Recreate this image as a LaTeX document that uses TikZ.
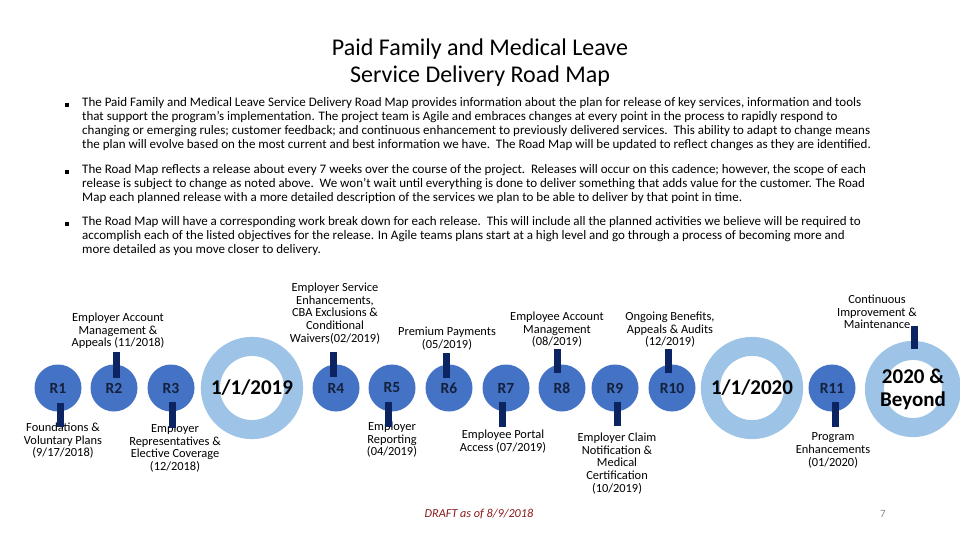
\documentclass[tikz,border=0pt]{standalone}
\usepackage{fontspec}
\setmainfont{Carlito}
\definecolor{relblue}{HTML}{4472C4}
\definecolor{ringblue}{HTML}{9DC3E6}
\definecolor{barnavy}{HTML}{0C2461}
\definecolor{reltext}{HTML}{14213D}
\definecolor{draftred}{HTML}{8B1A1A}
\definecolor{pagegray}{HTML}{8C8C8C}
\tikzset{
  rel/.style={circle, fill=relblue, minimum size=47pt, inner sep=0pt,
    font=\fontsize{15.5}{15.5}\selectfont\bfseries, text=reltext},
  ring/.style={circle, draw=ringblue, line width=19pt, minimum size=70.6pt,
    inner sep=0pt, font=\fontsize{21}{23}\selectfont\bfseries, align=center},
  lbl/.style={font=\fontsize{12.4}{12.8}\selectfont, align=center, inner sep=0pt, anchor=north},
  bar/.style={draw=barnavy, line width=7pt},
  para/.style={font=\fontsize{13}{14}\selectfont, align=left, inner sep=0pt, anchor=north west},
  bullet/.style={fill=black, minimum size=3.2pt, inner sep=0pt, rectangle}
}
\begin{document}
\begin{tikzpicture}[x=1pt,y=-1pt]
\useasboundingbox[fill=white] (0,0) rectangle (960,540);
% title
\node[font=\fontsize{24}{27}\selectfont, align=center, inner sep=0pt] (title) at (480,63)
  {Paid Family and Medical Leave\\Service Delivery Road Map};
% bullets
\node[bullet] (b1) at (67,105) {};
\node[bullet] (b2) at (67,172) {};
\node[bullet] (b3) at (67,224) {};
\node[para] (p1) at (82,97.5) {The Paid Family and Medical Leave Service Delivery Road Map provides information about the plan for release of key services, information and tools\\
that support the program’s implementation. The project team is Agile and embraces changes at every point in the process to rapidly respond to\\
changing or emerging rules; customer feedback; and continuous enhancement to previously delivered services.\ \ This ability to adapt to change means\\
the plan will evolve based on the most current and best information we have.\ \ The Road Map will be updated to reflect changes as they are identified.};
\node[para] (p2) at (82,164.5) {The Road Map reflects a release about every 7 weeks over the course of the project.\ \ Releases will occur on this cadence; however, the scope of each\\
release is subject to change as noted above.\ \ We won’t wait until everything is done to deliver something that adds value for the customer. The Road\\
Map each planned release with a more detailed description of the services we plan to be able to deliver by that point in time.};
\node[para] (p3) at (82,216.5) {The Road Map will have a corresponding work break down for each release.\ \ This will include all the planned activities we believe will be required to\\
accomplish each of the listed objectives for the release. In Agile teams plans start at a high level and go through a process of becoming more and\\
more detailed as you move closer to delivery.};
% releases
\node[rel] (R1) at (58,388) {R1};
\node[rel] (R2) at (114,388) {R2};
\node[rel] (R3) at (171,388) {R3};
\node[ring] (Y19) at (252,388) {1/1/2019};
\node[rel] (R4) at (336,388) {R4};
\node[rel] (R5) at (392,388) {R5};
\node[rel] (R6) at (449,388) {R6};
\node[rel] (R7) at (506,388) {R7};
\node[rel] (R8) at (562,388) {R8};
\node[rel] (R9) at (615,388) {R9};
\node[rel] (R10) at (672,388) {R10};
\node[ring] (Y20) at (752,388) {1/1/2020};
\node[rel] (R11) at (832,388) {R11};
\node[ring] (BY) at (913,389) {2020 \&\\Beyond};
% labels
\node[lbl] (L1) at (63,422.5) {Foundations \&\\Voluntary Plans\\(9/17/2018)};
\node[lbl] (L2) at (118,312.5) {Employer Account\\Management \&\\Appeals (11/2018)};
\node[lbl] (L3) at (175,423.5) {Employer\\Representatives \&\\Elective Coverage\\(12/2018)};
\node[lbl] (L4) at (335,282.5) {Employer Service\\Enhancements,\\CBA Exclusions \&\\Conditional\\Waivers(02/2019)};
\node[lbl] (L5) at (392,421.5) {Employer\\Reporting\\(04/2019)};
\node[lbl] (L6) at (447,326.5) {Premium Payments\\(05/2019)};
\node[lbl] (L7) at (503,429.5) {Employee Portal\\Access (07/2019)};
\node[lbl] (L8) at (557,311.5) {Employee Account\\Management\\(08/2019)};
\node[lbl] (L9) at (617,432.5) {Employer Claim\\Notification \&\\Medical\\Certification\\(10/2019)};
\node[lbl] (L10) at (670,311.5) {Ongoing Benefits,\\Appeals \& Audits\\(12/2019)};
\node[lbl] (L11) at (833,432.5) {Program\\Enhancements\\(01/2020)};
\node[lbl] (L12) at (877,294.5) {Continuous\\Improvement \&\\Maintenance};
% bars
\draw[bar] ([shift={(2,15)}]R1.center) -- ++(0,24);
\draw[bar] ([shift={(2,-10)}]R2.center) -- ++(0,-26);
\draw[bar] ([shift={(1,14)}]R3.center) -- ++(0,26);
\draw[bar] ([shift={(-3,-11)}]R4.center) -- ++(0,-25);
\draw[bar] ([shift={(-4,14)}]R5.center) -- ++(0,25);
\draw[bar] ([shift={(-3,-10)}]R6.center) -- ++(0,-25);
\draw[bar] ([shift={(-4,14)}]R7.center) -- ++(0,25);
\draw[bar] ([shift={(-5,-15)}]R8.center) -- ++(0,-24);
\draw[bar] ([shift={(2,14)}]R9.center) -- ++(0,24);
\draw[bar] ([shift={(-4,-15)}]R10.center) -- ++(0,-24);
\draw[bar] ([shift={(3,14)}]R11.center) -- ++(0,25);
\draw[bar] ([shift={(1,-40)}]BY.center) -- ++(0,-23);
% footer
\node[font=\fontsize{12.2}{14}\selectfont\itshape, text=draftred, inner sep=0pt] (draft) at (479,514) {DRAFT as of 8/9/2018};
\node[font=\fontsize{11}{14}\selectfont, text=pagegray, inner sep=0pt] (page) at (883,514) {7};
\end{tikzpicture}
\end{document}
